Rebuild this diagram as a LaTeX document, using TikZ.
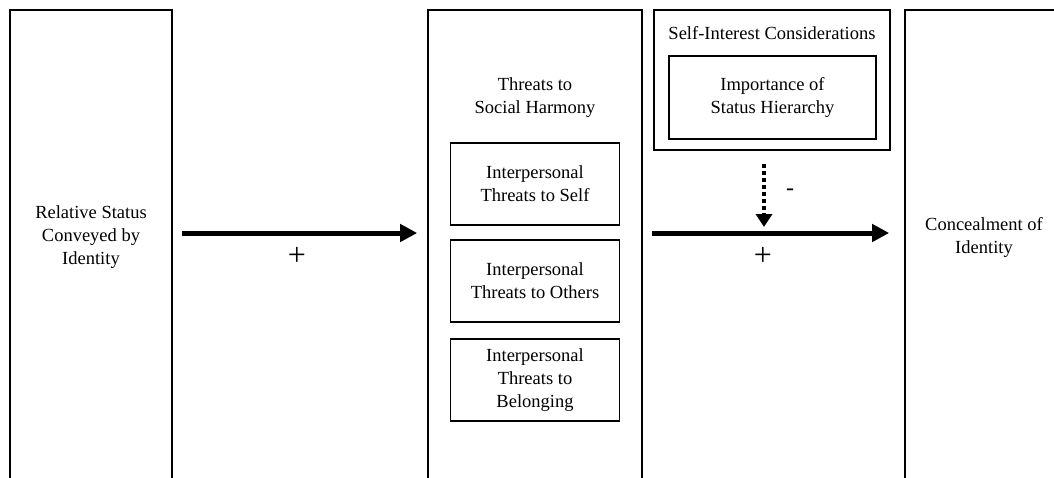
\documentclass[tikz,border=0pt]{standalone}
\usepackage{fontspec}
\setmainfont{Liberation Serif}
\usetikzlibrary{arrows.meta}

\begin{document}
\begin{tikzpicture}[x=1pt, y=-1pt, font=\fontsize{18.5}{23}\selectfont,
  col/.style={draw, line width=1.6pt, minimum width=#1, minimum height=480, inner sep=0pt},
  sub/.style={draw, line width=1.6pt, minimum width=169, minimum height=82, align=center, inner sep=0pt},
  txt/.style={align=center, inner sep=0pt},
  sign/.style={inner sep=0pt, font=\fontsize{32}{32}\selectfont},
  flow/.style={-{Triangle[length=17pt, width=17pt]}, line width=5pt},
  damp/.style={-{Triangle[length=13pt, width=16pt]}, line width=4.5pt, dash pattern=on 4pt off 3pt}]
\useasboundingbox (0,0) rectangle (1054,477);
\clip (0,0) rectangle (1054,477);
\coordinate (axis) at (0,233);
\coordinate (cut) at (764,233);
% columns
\node[col=162] (statusbox) at (91,250) {};
\node[txt] (status) at (91,237) {Relative Status\\Conveyed by\\Identity};
\node[col=214] (harmonybox) at (535,250) {};
\node[txt] (harmony) at (535,98) {Threats to\\Social Harmony};
\foreach \y/\t [count=\k] in {184/{Interpersonal\\Threats to Self},
  281/{Interpersonal\\Threats to Others}, 380/{Interpersonal\\Threats to\\Belonging}}
  \node[sub] (threat\k) at (535,\y) {\t};
\node[col=236, minimum height=140] (selfbox) at (772,80) {};
\node[txt] (self) at (772,33) {Self-Interest Considerations};
\node[sub, minimum width=207, minimum height=83] (hier) at (772.5,97.5) {Importance of\\Status Hierarchy};
\node[col=158] (conbox) at (984,250) {};
\node[txt] (con) at (984,237) {Concealment of\\Identity};
% paths
\draw[flow, shorten <=9pt, shorten >=10pt] (statusbox.east |- axis) -- (harmonybox.west |- axis);
\draw[flow, shorten <=9pt, shorten >=15pt] (harmonybox.east |- axis) -- (conbox.west |- axis);
\draw[damp, shorten <=13pt, shorten >=6pt] (selfbox.south -| cut) -- (cut);
\node[sign] (plusa) at (297,256) {+};
\node[sign] (plusb) at (763,256) {+};
\node[sign, font=\fontsize{24}{24}\selectfont] (minus) at (790,192) {-};
\end{tikzpicture}
\end{document}
